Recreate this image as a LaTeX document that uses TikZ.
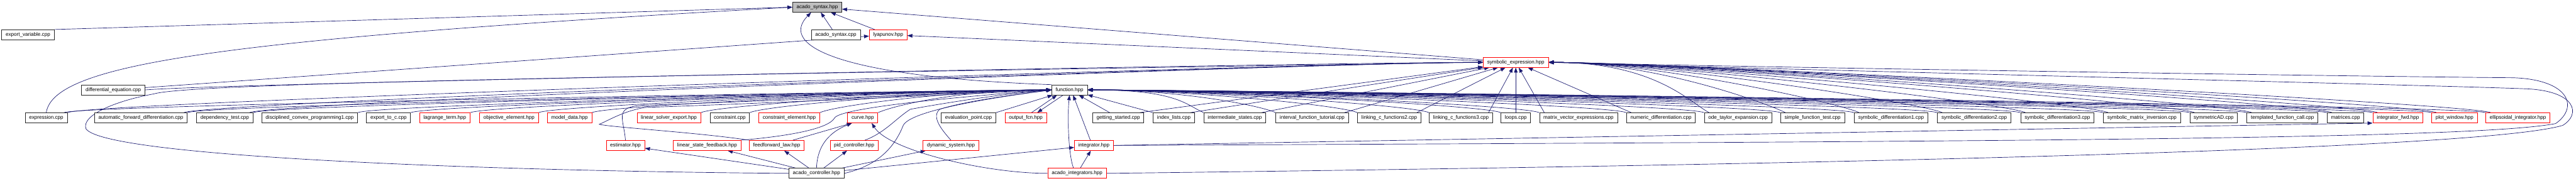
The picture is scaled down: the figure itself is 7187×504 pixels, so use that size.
\documentclass[tikz,border=0pt]{standalone}
\usepackage{fontspec}
\setmainfont{Liberation Sans}
\usetikzlibrary{arrows.meta}
\definecolor{edgecol}{RGB}{25,25,112}
\definecolor{boxgray}{RGB}{191,191,191}
\definecolor{boxred}{RGB}{255,0,0}
\pgfdeclarelayer{bg}
\pgfsetlayers{bg,main}
\begin{document}
\begin{tikzpicture}[x=1pt,y=-1pt,
  box/.style={draw=black!85, line width=1.3pt, fill=white, inner xsep=11pt, inner ysep=0pt, minimum height=28pt, font=\fontsize{14.2}{17}\selectfont},
  rbox/.style={box, draw=boxred},
  gbox/.style={box, fill=boxgray},
  edg/.style={draw=edgecol, line width=1.2pt, -{Triangle[length=14pt,width=10pt]}}]
\useasboundingbox (0,0) rectangle (7187,504);
% row 0-3
\node[gbox] (R) at (2280,20) {acado\_syntax.hpp};
\node[box] (ev) at (78,97) {export\_variable.cpp};
\node[box] (asc) at (2332,97) {acado\_syntax.cpp};
\node[rbox] (lya) at (2478,97) {lyapunov.hpp};
\node[rbox] (S) at (4229,174) {symbolic\_expression.hpp};
\node[box] (de) at (316,251) {differential\_equation.cpp};
\node[box] (F) at (2984,251) {function.hpp};
% row 4
\node[box] (expr) at (129,329) {expression.cpp};
\node[box] (afd) at (393,329) {automatic\_forward\_differentiation.cpp};
\node[box] (dep) at (627,329) {dependency\_test.cpp};
\node[box] (dcp) at (864,329) {disciplined\_convex\_programming1.cpp};
\node[box] (etc) at (1084,329) {export\_to\_c.cpp};
\node[rbox] (lag) at (1241,329) {lagrange\_term.hpp};
\node[rbox] (obj) at (1420,329) {objective\_element.hpp};
\node[rbox] (md) at (1589,329) {model\_data.hpp};
\node[rbox] (lse) at (1866,329) {linear\_solver\_export.hpp};
\node[box] (con) at (2036,329) {constraint.cpp};
\node[rbox] (cel) at (2202,329) {constraint\_element.hpp};
\node[rbox] (cur) at (2407,329) {curve.hpp};
\node[box] (evp) at (2702,329) {evaluation\_point.cpp};
\node[rbox] (ofc) at (2862,329) {output\_fcn.hpp};
\node[box] (gs) at (3120,329) {getting\_started.cpp};
\node[box] (il) at (3275,329) {index\_lists.cpp};
\node[box] (is) at (3445,329) {intermediate\_states.cpp};
\node[box] (ift) at (3661,329) {interval\_function\_tutorial.cpp};
\node[box] (lc2) at (3876,329) {linking\_c\_functions2.cpp};
\node[box] (lc3) at (4076,329) {linking\_c\_functions3.cpp};
\node[box] (lp) at (4229,329) {loops.cpp};
\node[box] (mve) at (4404,329) {matrix\_vector\_expressions.cpp};
\node[box] (nd) at (4634,329) {numeric\_differentiation.cpp};
\node[box] (ote) at (4849,329) {ode\_taylor\_expansion.cpp};
\node[box] (sft) at (5057,329) {simple\_function\_test.cpp};
\node[box] (sd1) at (5276,329) {symbolic\_differentiation1.cpp};
\node[box] (sd2) at (5508,329) {symbolic\_differentiation2.cpp};
\node[box] (sd3) at (5740,329) {symbolic\_differentiation3.cpp};
\node[box] (smi) at (5976,329) {symbolic\_matrix\_inversion.cpp};
\node[box] (sad) at (6176,329) {symmetricAD.cpp};
\node[box] (tfc) at (6368,329) {templated\_function\_call.cpp};
\node[box] (mat) at (6544,329) {matrices.cpp};
\node[rbox] (ifw) at (6690,329) {integrator\_fwd.hpp};
\node[rbox] (pw) at (6848,329) {plot\_window.hpp};
\node[rbox] (eli) at (7025,329) {ellipsoidal\_integrator.hpp};
% row 5
\node[rbox] (est) at (1745,406) {estimator.hpp};
\node[rbox] (lsf) at (1973,406) {linear\_state\_feedback.hpp};
\node[rbox] (ffl) at (2167,406) {feedforward\_law.hpp};
\node[rbox] (pid) at (2383,406) {pid\_controller.hpp};
\node[rbox] (dyn) at (2653,406) {dynamic\_system.hpp};
\node[rbox] (intg) at (3052,406) {integrator.hpp};
% row 6
\node[box] (ac) at (2278,484) {acado\_controller.hpp};
\node[rbox] (ai) at (3005,484) {acado\_integrators.hpp};

\begin{pgfonlayer}{bg}
% into the root
\draw[edg] (ev.north east) -- (R.west);
\draw[edg] (expr.north) .. controls (150,180) and (600,110) .. (R.west);
\draw[edg] (asc) -- (R);
\draw[edg] (lya) -- (R);
\draw[edg] (S) -- (R);
\draw[edg] (F.north west) .. controls (2350,215) and (2170,130) .. ([xshift=-17pt]R.south);
% lyapunov
\draw[edg] (de) -- (lya);
\draw[edg] (S) -- (lya);
% left side to symbolic_expression
\draw[edg] (de.east) .. controls +(250,-20) and +(-400,0) .. (S.west);
\draw[edg] (expr.north east) .. controls +(60,-30) and +(-400,0) .. (S.west);
\draw[edg] ([xshift=-10pt]afd.north east) .. controls +(60,-30) and +(-400,0) .. (S.west);
\draw[edg] ([xshift=-10pt]dep.north east) .. controls +(60,-30) and +(-400,0) .. (S.west);
% left side to function
\draw[edg] ([xshift=-10pt]expr.north east) .. controls +(50,-22) and +(-250,0) .. (F.west);
\foreach \n in {afd,dep,dcp,etc,lag,obj,md,lse,con,cel,cur}
  \draw[edg] (\n.north east) .. controls +(50,-22) and +(-250,0) .. (F.west);
\draw[edg] (evp.north east) -- (F);
% output_fcn both ways
\draw[edg] ([xshift=16pt]ofc.north) -- ([xshift=-35pt]F.south);
\draw[edg] ([xshift=-18pt]F.south) -- ([xshift=32pt]ofc.north);
% right side to function
\draw[edg] ([xshift=48pt]gs.north west) -- (F);
\draw[edg] (il.north west) -- (F);
\foreach \n in {is,ift,lc2,lc3,lp,mve,nd,ote,sft,sd1,sd2,sd3,smi,sad,tfc,mat,ifw,pw,eli}
  \draw[edg] (\n.north west) .. controls +(-50,-22) and +(250,0) .. (F.east);
% right side to symbolic_expression
\foreach \n in {gs,il,is,ift,lc2,lc3}
  \draw[edg] ([xshift=-12pt]\n.north east) -- (S);
\draw[edg] (lp) -- (S);
\foreach \n in {mve,nd}
  \draw[edg] ([xshift=14pt]\n.north west) -- (S);
\foreach \n in {ote,sft,sd1,sd2,sd3,smi,sad,tfc,mat,ifw,pw,eli}
  \draw[edg] ([xshift=14pt]\n.north west) .. controls +(-50,-25) and +(300,0) .. (S.east);
% row 5 to function
\draw[edg] (est.north) .. controls (1740,330) and (1712,300) .. (1790,294) .. controls (2200,280) and (2700,258) .. (F.west);
\draw[edg] (ffl.north west) .. controls (1950,370) and (1700,355) .. (1672,347) .. controls (1700,335) and (1740,310) .. (1800,300) .. controls (2200,286) and (2700,262) .. (F.west);
\draw[edg] (lsf.north east) .. controls (2200,380) and (2310,360) .. (2328,330) .. controls (2340,300) and (2700,268) .. (F.west);
\draw[edg] ([xshift=30pt]pid.north) .. controls (2470,370) and (2500,330) .. (2540,305) .. controls (2650,285) and (2800,262) .. (F.west);
\draw[edg] (dyn.north) .. controls (2625,360) and (2598,325) .. (2622,305) .. controls (2700,280) and (2850,262) .. (F.west);
\draw[edg] ([xshift=-10pt]intg.north) -- ([xshift=10pt]F.south);
% acado_controller
\draw[edg] (ac) -- (est);
\draw[edg] (ac) -- (lsf);
\draw[edg] (ac) -- (ffl);
\draw[edg] (ac) -- (pid);
\draw[edg] (ac) -- (dyn);
\draw[edg] (ac) -- (intg);
\draw[edg] (ac.north) .. controls (2280,420) and (2300,375) .. ([xshift=-30pt]cur.south);
\draw[edg] ([xshift=45pt]ffl.north) -- ([xshift=-30pt]cur.south);
\draw[edg] (ac.east) .. controls (2460,460) and (2500,400) .. (2520,350) .. controls (2540,310) and (2750,275) .. (F.west);
\draw[edg] (ac.west) .. controls (1400,478) and (300,440) .. (240,360) .. controls (225,320) and (330,280) .. (430,262) .. controls (520,235) and (1500,215) .. (S.west);
% acado_integrators
\draw[edg] (ai) -- (intg);
\draw[edg] ([xshift=-10pt]ai.north) .. controls (2980,430) and (2978,320) .. (F.south);
\draw[edg] (ai.west) .. controls (2750,484) and (2480,420) .. ([xshift=25pt]cur.south);
\draw[edg] (ai.east) .. controls (5500,455) and (6950,410) .. (7150,350) .. controls (7200,320) and (7190,255) .. (7050,248) .. controls (6800,238) and (5000,195) .. (S.east);
% integrator
\draw[edg] (intg.east) -- (ifw.south west);
\draw[edg] (intg.east) .. controls (5500,395) and (6900,390) .. (7130,345) .. controls (7195,300) and (7170,222) .. (7010,217) .. controls (6700,215) and (5000,190) .. (S.east);
\end{pgfonlayer}
\end{tikzpicture}
\end{document}
